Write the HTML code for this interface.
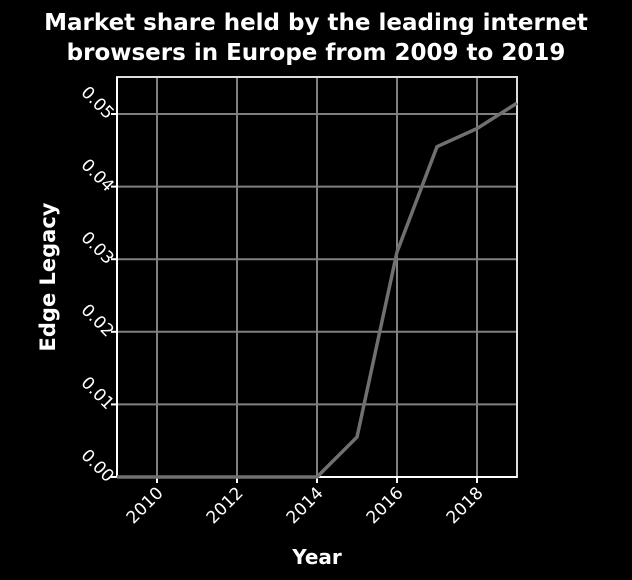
<!DOCTYPE html>
<html><head><meta charset="utf-8"><style>
body{margin:0;background:#000;width:632px;height:580px;overflow:hidden}
svg{display:block}
text{font-family:"DejaVu Sans","Liberation Sans",sans-serif;fill:#fff}
</style></head><body>
<svg id="chart" width="632" height="580" xmlns="http://www.w3.org/2000/svg">
<rect width="632" height="580" fill="#000"/>
<text x="316" y="30" text-anchor="middle" font-size="23" font-weight="bold">Market share held by the leading internet</text>
<text x="316" y="60" text-anchor="middle" font-size="23" font-weight="bold">browsers in Europe from 2009 to 2019</text>
<text x="317" y="564" text-anchor="middle" font-size="20" font-weight="bold">Year</text>
<text transform="translate(55,277) rotate(-90)" text-anchor="middle" font-size="21" font-weight="bold">Edge Legacy</text>
<g id="g"></g>
</svg>
<script>
const years=[2009,2010,2011,2012,2013,2014,2015,2016,2017,2018,2019];
const shares=[0,0,0,0,0,0,0.0055,0.031,0.0455,0.048,0.0515];
const xTicks=[2010,2012,2014,2016,2018];
const yTicks=[0,0.01,0.02,0.03,0.04,0.05];
const yLabels=["0.00","0.01","0.02","0.03","0.04","0.05"];
const L=117,R=517,T=77,B=477;
const x=v=>L+(v-2009)/(2019-2009)*(R-L);
const y=v=>B-v/0.0551*(B-T);
const g=document.getElementById('g');
const NS='http://www.w3.org/2000/svg';
function mk(t,a){const e=document.createElementNS(NS,t);for(const k in a)e.setAttribute(k,a[k]);g.appendChild(e);return e;}
xTicks.forEach((v,i)=>{
 const l=mk('line',{x1:x(v),x2:x(v),y1:T,y2:B,stroke:'#808080','stroke-width':2});
 
 
 mk('line',{x1:x(v),x2:x(v),y1:B,y2:B+6,stroke:'#fff','stroke-width':2});
 const t=mk('text',{transform:`translate(${x(v)+7},${B+17}) rotate(-45)`,'text-anchor':'end','font-size':17});
 t.textContent=v;
 
 
});
yTicks.forEach((v,i)=>{
 const l=mk('line',{x1:L,x2:R,y1:y(v),y2:y(v),stroke:'#808080','stroke-width':2});
 
 
 mk('line',{x1:L-6,x2:L,y1:y(v),y2:y(v),stroke:'#fff','stroke-width':2});
 const t=mk('text',{transform:`translate(${L-10},${y(v)+6}) rotate(45)`,'text-anchor':'end','font-size':17});
 t.textContent=yLabels[i];
 
 
});
const f=mk('rect',{x:L,y:T,width:R-L,height:B-T,fill:'none',stroke:'#ddd','stroke-width':2});


mk('line',{x1:L,x2:L,y1:T,y2:B,stroke:'#fff','stroke-width':2});
mk('line',{x1:L,x2:R,y1:B,y2:B,stroke:'#fff','stroke-width':2});
const p=mk('polyline',{points:years.map((yr,i)=>x(yr)+','+y(shares[i])).join(' '),fill:'none',stroke:'#707070','stroke-width':3.5,'stroke-linejoin':'round'});


</script>
</body></html>
